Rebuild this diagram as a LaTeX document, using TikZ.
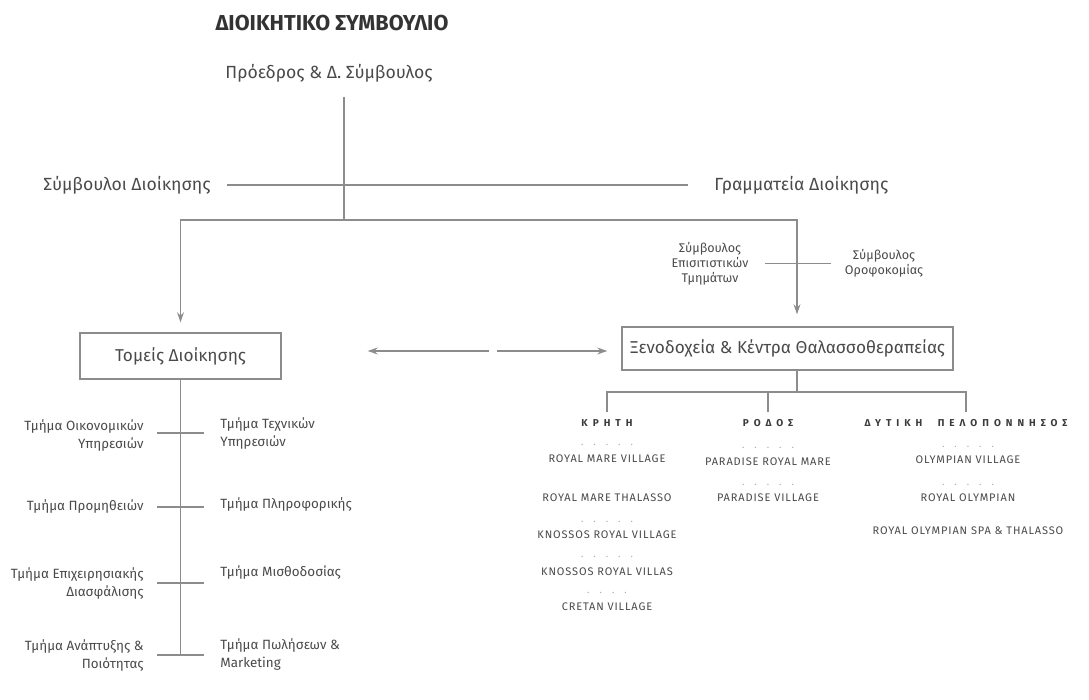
\documentclass[tikz,border=0pt]{standalone}
\usepackage{fontspec}
\setmainfont{Fira Sans}
\usepackage{xcolor}
\usetikzlibrary{arrows.meta,positioning,calc}

\definecolor{inkgray}{HTML}{4A4A4A}
\definecolor{linegray}{HTML}{8C8C8C}
\definecolor{dotgray}{HTML}{A8A8A8}

\tikzset{
  link/.style={draw=linegray, line width=0.65pt},
  arr/.style={link, -{Stealth[length=5pt,width=3.4pt]}},
  box/.style={draw=linegray, line width=0.65pt, text=inkgray, font=\fontsize{8.6}{10}\selectfont, inner sep=0pt},
  lbl/.style={text=inkgray, font=\fontsize{8.8}{11}\selectfont, inner sep=1pt},
  small/.style={text=inkgray, font=\fontsize{6.3}{7.6}\selectfont, align=center, inner sep=1pt},
  dept/.style={text=inkgray, font=\fontsize{6.7}{9}\selectfont, inner sep=1pt},
  region/.style={text=inkgray!80!black, font=\bfseries\fontsize{5}{6}\selectfont\addfontfeature{LetterSpace=50}, inner sep=1pt},
  hotel/.style={text=inkgray, font=\fontsize{5.5}{6.5}\selectfont\addfontfeature{LetterSpace=8}, inner sep=1pt},
  dotrow/.style={text=dotgray, font=\fontsize{5}{6}\selectfont\addfontfeature{LetterSpace=100}, inner sep=0pt},
}

\begin{document}
\begin{tikzpicture}[x=0.5pt,y=-0.5pt]
\useasboundingbox (0,0) rectangle (1089,700);

\node[text=black!80, font=\bfseries\fontsize{10.8}{13}\selectfont] (board) at (332,23) {ΔΙΟΙΚΗΤΙΚΟ ΣΥΜΒΟΥΛΙΟ};
\node[lbl] (pres) at (329,73) {Πρόεδρος \& Δ. Σύμβουλος};
\coordinate (top) at (344,97);
\coordinate (jn) at (344,220);
\draw[link] (top) -- (jn);

\node[lbl, anchor=east] (advisors) at (213,185) {Σύμβουλοι Διοίκησης};
\node[lbl, anchor=west] (secretariat) at (712,185) {Γραμματεία Διοίκησης};
\draw[link, shorten <=7pt, shorten >=12pt] (advisors.east) -- (secretariat.west);

\node[box, minimum width=165.5pt, minimum height=21.5pt] (hotels) at (787.5,348.5) {Ξενοδοχεία \& Κέντρα Θαλασσοθεραπείας};
\node[box, minimum width=100.5pt, minimum height=23pt] (sectors) at (180.5,356) {Τομείς Διοίκησης};
\draw[arr, shorten >=5pt] (jn) -| (sectors.north);
\draw[arr, shorten >=6pt] (jn) -| ([xshift=4.75pt]hotels.north);

\node[small] (fnb) at (710,263.5) {Σύμβουλος\\Επισιτιστικών\\Τμημάτων};
\node[small] (hk) at (884,263.5) {Σύμβουλος\\Οροφοκομίας};
\draw[link, shorten <=7pt, shorten >=6pt] (fnb.east) -- (hk.west);

\coordinate (mid) at (493,351);
\draw[arr, shorten <=2pt, shorten >=43pt] (mid) -- (sectors.east |- mid);
\draw[arr, shorten <=2pt, shorten >=7pt] (mid) -- (hotels.west |- mid);

\coordinate (spine) at (180.5,655);
\draw[link] (sectors.south) -- (spine);
\foreach \y [count=\i] in {433,507,583,655} {
  \coordinate (bl\i) at (157,\y);
  \coordinate (br\i) at (204,\y);
  \draw[link] (bl\i) -- (br\i);
}
\node[dept, anchor=east, align=right] (fin) at (146,436) {Τμήμα Οικονομικών\\Υπηρεσιών};
\node[dept, anchor=east, align=right] (supply) at (146,507) {Τμήμα Προμηθειών};
\node[dept, anchor=east, align=right] (assur) at (146,584) {Τμήμα Επιχειρησιακής\\Διασφάλισης};
\node[dept, anchor=east, align=right] (qual) at (146,656) {Τμήμα Ανάπτυξης \&\\Ποιότητας};
\node[dept, anchor=west, align=left] (tech) at (218,434) {Τμήμα Τεχνικών\\Υπηρεσιών};
\node[dept, anchor=west, align=left] (it) at (218,505) {Τμήμα Πληροφορικής};
\node[dept, anchor=west, align=left] (pay) at (218,573) {Τμήμα Μισθοδοσίας};
\node[dept, anchor=west, align=left] (sales) at (218,655) {Τμήμα Πωλήσεων \&\\Marketing};

\node[region] (crete) at (607,423) {ΚΡΗΤΗ};
\node[region] (rhodes) at (768,423) {ΡΟΔΟΣ};
\node[region] (pelop) at (966,423) {ΔΥΤΙΚΗ\hspace{4pt} ΠΕΛΟΠΟΝΝΗΣΟΣ};
\coordinate (fork) at (797,392);
\draw[link] ([xshift=4.75pt]hotels.south) -- (fork);
\draw[link, shorten <=2.5pt, shorten >=2.5pt] (crete.north) |- (fork) -| (pelop.north);
\draw[link, shorten <=2.5pt] (rhodes.north) -- (rhodes.north |- fork);

\foreach \y/\t [count=\i] in {459/ROYAL MARE VILLAGE, 498/ROYAL MARE THALASSO, 535/KNOSSOS ROYAL VILLAGE, 572/KNOSSOS ROYAL VILLAS, 607/CRETAN VILLAGE}
  \node[hotel] (cr\i) at (607,\y) {\t};
\foreach \y [count=\i] in {445,522,557}
  \node[dotrow] (crd\i) at (607,\y) {.....};
\node[dotrow] (crd4) at (607,593) {....};

\foreach \y/\t [count=\i] in {462/PARADISE ROYAL MARE, 498/PARADISE VILLAGE}
  \node[hotel] (rh\i) at (768,\y) {\t};
\foreach \y [count=\i] in {448,485}
  \node[dotrow] (rhd\i) at (768,\y) {.....};

\foreach \y/\t [count=\i] in {460/OLYMPIAN VILLAGE, 498/ROYAL OLYMPIAN, 531/ROYAL OLYMPIAN SPA \& THALASSO}
  \node[hotel] (pe\i) at (968,\y) {\t};
\foreach \y [count=\i] in {447,485}
  \node[dotrow] (ped\i) at (968,\y) {.....};
\end{tikzpicture}
\end{document}
